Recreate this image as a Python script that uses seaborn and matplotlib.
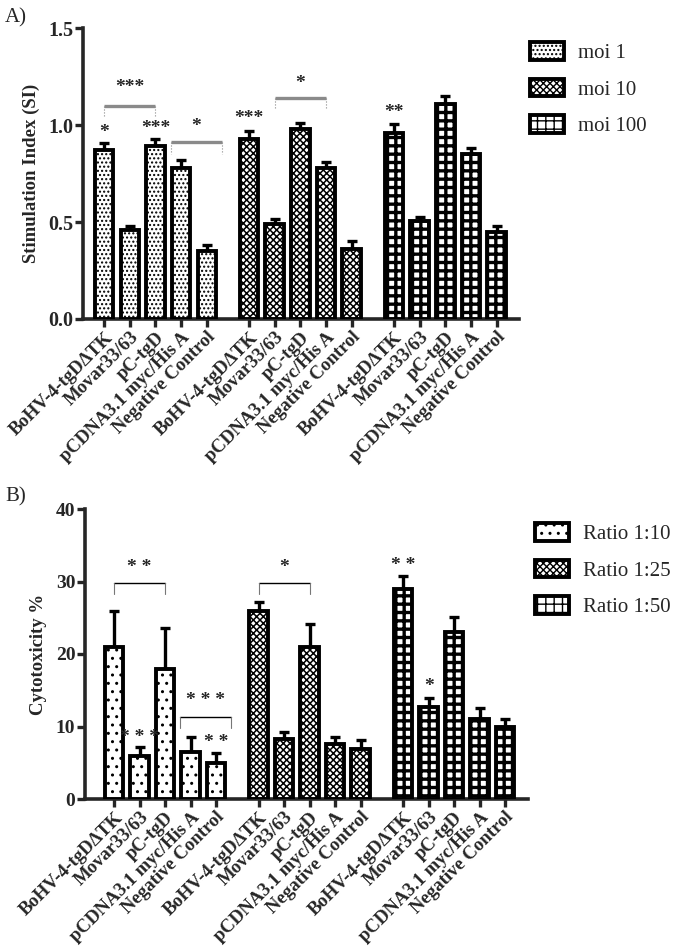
import numpy as np
import pandas as pd
import seaborn as sns
import matplotlib
matplotlib.use("Agg")
import matplotlib.pyplot as plt
from matplotlib.patches import Patch

# ---- data ----
constructs = ["BoHV-4-tgDΔTK", "Movar33/63", "pC-tgD", "pCDNA3.1 myc/His A", "Negative Control"]

moi_levels = ["moi 1", "moi 10", "moi 100"]
si_moi1 = [0.87, 0.46, 0.89, 0.78, 0.35]
si_moi10 = [0.93, 0.49, 0.98, 0.78, 0.36]
si_moi100 = [0.96, 0.505, 1.11, 0.85, 0.45]
si_moi1_err = [0.035, 0.02, 0.04, 0.04, 0.03]
si_moi10_err = [0.04, 0.025, 0.03, 0.03, 0.04]
si_moi100_err = [0.045, 0.02, 0.04, 0.03, 0.03]

ratio_levels = ["Ratio 1:10", "Ratio 1:25", "Ratio 1:50"]
cyt_r10 = [21, 6, 18, 6.5, 5]
cyt_r25 = [26, 8.3, 21, 7.6, 6.9]
cyt_r50 = [29, 12.7, 23, 11.1, 9.9]
cyt_r10_err = [5, 1.2, 5.6, 2.1, 1.4]
cyt_r25_err = [1.2, 1.0, 3.1, 0.9, 1.3]
cyt_r50_err = [1.7, 1.2, 2.1, 1.5, 1.1]


def make_frame(levels, vals, errs, step):
    rows = []
    for g, (lev, v, e) in enumerate(zip(levels, vals, errs)):
        for i, c in enumerate(constructs):
            rows.append({"construct": c, "group": lev, "value": v[i], "err": e[i],
                         "pos": g * step + i})
    return pd.DataFrame(rows)


sns.set_style("ticks")
plt.rcParams['font.family'] = ['Liberation Serif', 'DejaVu Serif']
plt.rcParams['hatch.color'] = 'black'
plt.rcParams['hatch.linewidth'] = 1.0


def set_hatch(p, h, lw):
    p.set_hatch(h)
    if hasattr(p, "set_hatch_linewidth"):
        p.set_hatch_linewidth(lw)


def draw_panel(ax, df, levels, hatches, hlw, ylim, yticks, ylabel, xlim, ytick_size):
    sns.barplot(data=df, x="pos", y="value", hue="group", hue_order=levels,
                native_scale=True, dodge=False, errorbar=None, width=0.72,
                palette=["white"] * 3, edgecolor="black", linewidth=2.8,
                legend=False, ax=ax, zorder=3)
    for cont, h, lw in zip(ax.containers, hatches, hlw):
        for bar in cont:
            set_hatch(bar, h, lw)
    ax.errorbar(df["pos"], df["value"], yerr=[np.zeros(len(df)), df["err"]],
                fmt="none", ecolor="black", elinewidth=2.4, capsize=3.8,
                capthick=2.4, zorder=2)
    ax.set_xlim(*xlim)
    ax.set_ylim(*ylim)
    ax.set_yticks(yticks)
    ax.set_xticks(df["pos"])
    ax.set_xticklabels(df["construct"], rotation=45, ha="right",
                       rotation_mode="anchor", fontsize=13.5, fontweight="bold")
    for t in ax.get_yticklabels():
        t.set_fontsize(ytick_size)
        t.set_fontweight("bold")
    ax.set_xlabel("")
    ax.set_ylabel(ylabel, fontsize=13.5, fontweight="bold", labelpad=6)
    sns.despine(ax=ax)
    for s in ["left", "bottom"]:
        ax.spines[s].set_linewidth(2.6)
    ax.tick_params(axis="both", width=2.4, length=6, pad=1)


fig = plt.figure(figsize=(6.85, 9.49), dpi=100)
axA = fig.add_axes([83 / 685, 1 - 319 / 949, 436 / 685, 291 / 949])
axB = fig.add_axes([85 / 685, 1 - 799 / 949, 443 / 685, 290 / 949])

dfA = make_frame(moi_levels, [si_moi1, si_moi10, si_moi100],
                 [si_moi1_err, si_moi10_err, si_moi100_err], 5.64)
dfB = make_frame(ratio_levels, [cyt_r10, cyt_r25, cyt_r50],
                 [cyt_r10_err, cyt_r25_err, cyt_r50_err], 5.67)

hatchA = ["....", "xxxxx", "++"]
hatchB = ["..", "xxxxx", "++"]
hlwA = [1.0, 1.1, 2.4]
hlwB = [1.0, 1.1, 2.4]

draw_panel(axA, dfA, moi_levels, hatchA, hlwA, (0, 1.5), [0, 0.5, 1.0, 1.5],
           "Stimulation Index (SI)", (-0.82, 16.15), 14.5)
axA.set_yticklabels(["0.0", "0.5", "1.0", "1.5"], fontsize=14.5, fontweight="bold")
draw_panel(axB, dfB, ratio_levels, hatchB, hlwB, (0, 40), [0, 10, 20, 30, 40],
           "Cytotoxicity %", (-1.14, 16.24), 14)

star_kw = dict(ha="center", va="bottom", fontsize=14, fontweight="bold")

# panel A significance marks
def bracket_a(ax, x0, x1, y, drop):
    ax.plot([x0, x1], [y, y], color="#8a8a8a", lw=2.4, solid_capstyle="butt", zorder=4)
    ax.plot([x0, x0], [y, y - drop], color="#8a8a8a", lw=0.8, ls=":", zorder=4)
    ax.plot([x1, x1], [y, y - drop], color="#8a8a8a", lw=0.8, ls=":", zorder=4)

bracket_a(axA, 0, 2, 1.10, 0.06)
axA.text(1, 1.15, "***", **star_kw)
bracket_a(axA, 2.6, 4.6, 0.91, 0.06)
axA.text(3.6, 0.95, "*", **star_kw)
axA.text(0, 0.92, "*", **star_kw)
axA.text(2, 0.94, "***", **star_kw)
axA.text(5.64, 0.99, "***", **star_kw)
bracket_a(axA, 6.64, 8.64, 1.14, 0.06)
axA.text(7.64, 1.17, "*", **star_kw)
axA.text(11.28, 1.02, "**", **star_kw)

# panel B significance marks
def bracket_b(ax, x0, x1, y, drop):
    ax.plot([x0, x1], [y, y], color="black", lw=1.0, zorder=4)
    ax.plot([x0, x0], [y, y - drop], color="#777777", lw=0.8, zorder=4)
    ax.plot([x1, x1], [y, y - drop], color="#777777", lw=0.8, zorder=4)

bracket_b(axB, 0, 2, 29.8, 1.5)
axB.text(1, 30.8, "* *", **star_kw)
axB.text(1, 7.3, "* * *", **star_kw)
bracket_b(axB, 2.6, 4.6, 11.3, 1.5)
axB.text(3.6, 12.4, "* * *", **star_kw)
axB.text(4, 6.6, "* *", **star_kw)
bracket_b(axB, 5.67, 7.67, 29.8, 1.5)
axB.text(6.67, 30.8, "*", **star_kw)
axB.text(11.34, 31.0, "* *", **star_kw)
axB.text(12.34, 14.3, "*", **star_kw)

# legends
def legend_for(levels, hatches, hlw, anchor):
    handles = []
    for l, h, lw in zip(levels, hatches, hlw):
        p = Patch(facecolor="white", edgecolor="black", linewidth=2.8, label=l)
        set_hatch(p, h, lw)
        handles.append(p)
    fig.legend(handles=handles, loc="upper left", bbox_to_anchor=anchor,
               frameon=False, fontsize=15, handlelength=1.6, handleheight=0.9,
               labelspacing=0.75, handletextpad=0.7, borderaxespad=0)

legend_for(moi_levels, hatchA, hlwA, (522 / 685, 1 - 34 / 949))
legend_for(ratio_levels, hatchB, hlwB, (527 / 685, 1 - 515 / 949))

fig.text(5 / 685, 1 - 18 / 949, "A)", fontsize=15, va="center")
fig.text(5 / 685, 1 - 497 / 949, "B)", fontsize=15, va="center")

fig.savefig("out.png", dpi=100)
